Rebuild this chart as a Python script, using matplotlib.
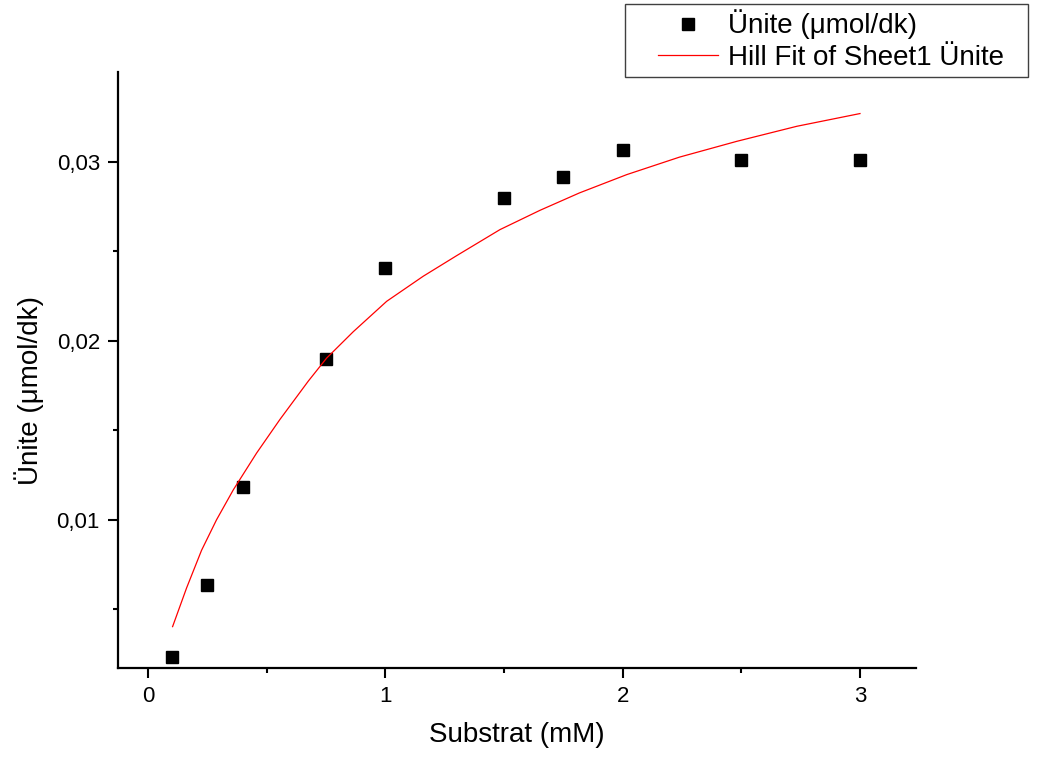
import matplotlib
matplotlib.use("Agg")
import matplotlib.pyplot as plt
from matplotlib.legend_handler import HandlerLine2D

plt.rcParams['font.family'] = ['Liberation Sans', 'DejaVu Sans']

# measured data
substrat = [0.1, 0.25, 0.4, 0.75, 1.0, 1.5, 1.75, 2.0, 2.5, 3.0]
unite = [0.00235, 0.00637, 0.01184, 0.0190, 0.02408, 0.02799, 0.02916, 0.03067, 0.03011, 0.03006]

# Hill fit curve
fit_x = [0.104, 0.163, 0.226, 0.289, 0.360, 0.458, 0.556, 0.676, 0.753, 0.865, 1.006,
         1.160, 1.301, 1.483, 1.652, 1.818, 2.017, 2.24, 2.481, 2.734, 3.0]
fit_y = [0.00404, 0.0062, 0.0083, 0.0100, 0.01168, 0.01373, 0.0156, 0.01775, 0.01903, 0.0205, 0.0222,
         0.0236, 0.02475, 0.0262, 0.02728, 0.02825, 0.02927, 0.03025, 0.03113, 0.03197, 0.03268]

x_ticks = [0, 1, 2, 3]
x_ticklabels = ['0', '1', '2', '3']
x_minor = [0.5, 1.5, 2.5]
y_ticks = [0.01, 0.02, 0.03]
y_ticklabels = ['0,01', '0,02', '0,03']
y_minor = [0.005, 0.015, 0.025]

fig = plt.figure(figsize=(10.37, 7.6), dpi=100)
ax = fig.add_axes([118/1037, 92/760, 798/1037, 596/760])

pts, = ax.plot(substrat, unite, linestyle='none', marker='s', markersize=8.7,
               color='black', label='Ünite (μmol/dk)')
fit, = ax.plot(fit_x, fit_y, color='red', linewidth=0.9, label='Hill Fit of Sheet1 Ünite')

ax.set_xlim(-0.126, 3.236)
ax.set_ylim(0.00173, 0.0350)

ax.spines['top'].set_visible(False)
ax.spines['right'].set_visible(False)
ax.spines['left'].set_linewidth(1.6)
ax.spines['bottom'].set_linewidth(1.6)

ax.set_xticks(x_ticks)
ax.set_xticklabels(x_ticklabels)
ax.set_xticks(x_minor, minor=True)
ax.set_yticks(y_ticks)
ax.set_yticklabels(y_ticklabels)
ax.set_yticks(y_minor, minor=True)
ax.tick_params(which='major', direction='out', length=7, width=1.5, labelsize=16, pad=6)
ax.tick_params(which='minor', direction='out', length=3.5, width=1.5)

ax.set_xlabel('Substrat (mM)', fontsize=20, labelpad=11)
ax.set_ylabel('Ünite (μmol/dk)', fontsize=20)
ax.yaxis.set_label_coords(-0.093, 0.466)

hm = {pts: HandlerLine2D(xpad=1.0), fit: HandlerLine2D(xpad=1.0)}
leg = fig.legend(handles=[pts, fit], handler_map=hm, loc='upper left',
                 bbox_to_anchor=(625/1037, 682/760, 403/1037, 74/760),
                 mode='expand', borderaxespad=0, fontsize=20, numpoints=1,
                 borderpad=0.2, labelspacing=0.2, handlelength=3.14,
                 handletextpad=0.35, fancybox=False, framealpha=1)
leg.get_frame().set_edgecolor('0.25')
leg.get_frame().set_linewidth(1.0)

fig.savefig('out.png', dpi=100)
